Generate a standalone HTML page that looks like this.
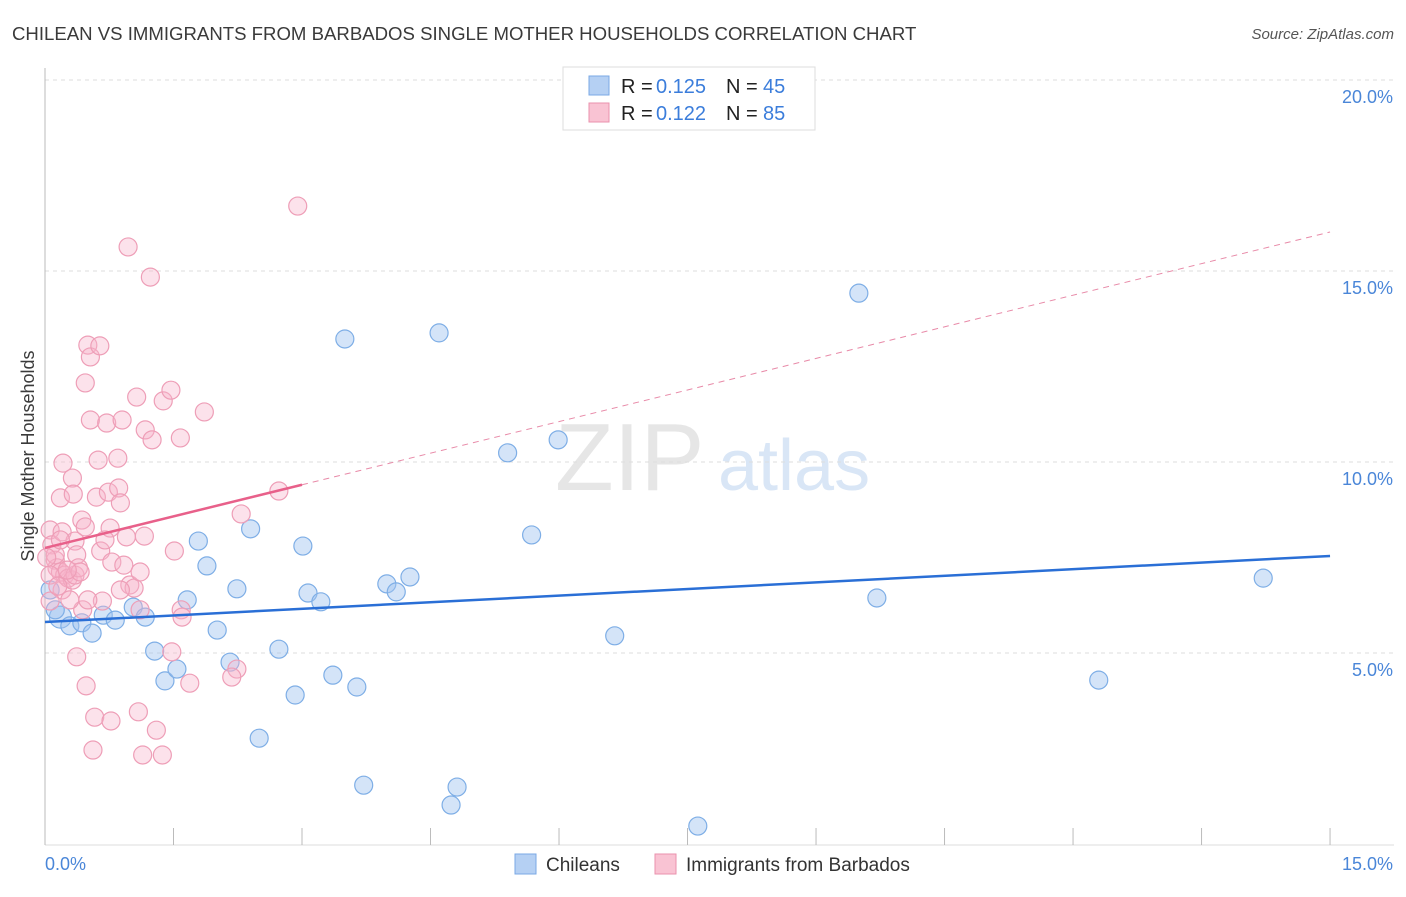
<!DOCTYPE html>
<html><head><meta charset="utf-8"><style>
body{margin:0;background:#fff;font-family:"Liberation Sans",sans-serif}
svg text{font-family:"Liberation Sans",sans-serif}
</style></head><body>
<svg width="1406" height="892" xmlns="http://www.w3.org/2000/svg">
<text x="12" y="40" font-size="18.6" fill="#3a3a3a">CHILEAN VS IMMIGRANTS FROM BARBADOS SINGLE MOTHER HOUSEHOLDS CORRELATION CHART</text>
<text x="1394" y="39" font-size="15" fill="#555" text-anchor="end" font-style="italic">Source: ZipAtlas.com</text>
<text x="555" y="490" font-size="96" fill="#e6e6e6" font-family="Liberation Serif">ZIP</text>
<text x="718" y="490" font-size="72" fill="#d9e6f6">atlas</text>
<g id="grid"></g>
<g id="axes"></g>
<g id="pts"></g>
<g id="trend"></g>
<text transform="translate(34,456) rotate(-90)" font-size="18" fill="#3a3a3a" text-anchor="middle">Single Mother Households</text>
<text x="45" y="870" font-size="18" fill="#4a86d8">0.0%</text>
<text x="1393" y="870" font-size="18" fill="#4a86d8" text-anchor="end">15.0%</text>
<g>
<rect x="563" y="67" width="252" height="63" fill="#fff" stroke="#ddd"/>
<rect x="589" y="76" width="20" height="19" fill="#b5d0f3" stroke="#7aa8e4"/>
<rect x="589" y="103" width="20" height="19" fill="#f9c3d3" stroke="#ea92ad"/>
<text x="621" y="93" font-size="20" fill="#222">R =</text>
<text x="656" y="93" font-size="20" fill="#3b7ddb">0.125</text>
<text x="726" y="93" font-size="20" fill="#222">N =</text>
<text x="763" y="93" font-size="20" fill="#3b7ddb">45</text>
<text x="621" y="120" font-size="20" fill="#222">R =</text>
<text x="656" y="120" font-size="20" fill="#3b7ddb">0.122</text>
<text x="726" y="120" font-size="20" fill="#222">N =</text>
<text x="763" y="120" font-size="20" fill="#3b7ddb">85</text>
</g>
<g>
<rect x="515" y="854" width="21" height="20" fill="#b5d0f3" stroke="#7aa8e4"/>
<text x="546" y="871" font-size="19" fill="#333">Chileans</text>
<rect x="655" y="854" width="21" height="20" fill="#f9c3d3" stroke="#ea92ad"/>
<text x="686" y="871" font-size="19" fill="#333">Immigrants from Barbados</text>
</g>
</svg>
<script>
const yTicks=[5,10,15,20];
const yTickLabels=["5.0%","10.0%","15.0%","20.0%"];
const xTicks=[0,1.5,3,4.5,6,7.5,9,10.5,12,13.5,15];
const chileansX=[.18,.29,.43,.55,.68,.82,1.03,1.17,1.28,1.40,1.54,1.66,1.79,1.89,2.01,2.16,2.24,2.40,2.50,2.73,2.92,3.01,3.07,3.22,3.36,3.50,3.64,3.72,3.99,4.10,4.26,4.60,4.74,4.81,5.40,5.68,5.99,6.65,7.62,9.50,9.71,12.30,14.22,.06,.12];
const chileansY=[5.94,5.71,5.79,5.52,5.99,5.86,6.20,5.94,5.05,4.27,4.58,6.39,7.93,7.28,5.60,4.76,6.68,8.25,2.77,5.10,3.90,7.80,6.57,6.34,4.42,13.22,4.11,1.54,6.81,6.60,6.99,13.38,1.02,1.49,10.24,8.09,10.58,5.45,.47,14.42,6.44,4.29,6.96,6.65,6.13];
const barbadosX=[.06,.08,.12,.14,.18,.20,.23,.27,.32,.35,.06,.12,.21,.18,.20,.32,.33,.35,.37,.39,.41,.43,.47,.50,.53,.47,.53,.60,.62,.64,.65,.67,.72,.74,.76,.78,.85,.86,.88,.90,.92,.95,.99,.97,1.04,1.07,1.11,1.16,1.17,1.23,1.25,1.38,1.47,1.51,1.58,1.59,1.60,1.86,2.24,2.29,2.73,2.95,.48,.37,.58,.56,.77,1.09,1.14,1.30,1.37,1.48,1.69,2.18,.06,.15,.44,.88,1.11,.18,.26,.29,.50,.70,.02];
const barbadosY=[8.22,7.83,7.43,7.23,7.12,6.65,7.04,6.96,6.91,7.04,7.04,7.57,9.97,9.06,8.17,9.58,9.16,7.93,7.57,7.23,7.12,8.48,8.30,13.06,12.75,12.07,11.10,9.08,10.05,13.04,7.67,6.36,11.02,9.21,8.27,7.38,10.10,9.32,8.93,11.10,7.30,8.04,6.78,15.63,6.70,11.70,7.12,8.06,10.84,14.84,10.58,11.60,11.88,7.67,10.63,6.13,5.94,11.31,4.58,8.64,9.24,16.70,4.14,4.90,3.32,2.46,3.22,3.46,2.33,2.98,2.33,5.03,4.21,4.37,6.36,6.75,6.13,6.65,6.13,7.96,7.17,6.39,6.39,7.96,7.50];
const blueTrend=[5.81,7.54];
const pinkTrend=[7.75,16.02];
const NS="http://www.w3.org/2000/svg";
const sx=v=>45+v*85.67, sy=v=>844-v*38.2;
function mk(tag,attrs,parent){const e=document.createElementNS(NS,tag);for(const k in attrs)e.setAttribute(k,attrs[k]);document.getElementById(parent).appendChild(e);return e;}
yTicks.forEach((t,i)=>{
 const l=mk('line',{x1:45,x2:1394,y1:sy(t),y2:sy(t),stroke:'#ddd','stroke-dasharray':'4,4'},'grid');
 
 
 const tx=mk('text',{x:1393,y:sy(t)+23,'font-size':18,fill:'#4a86d8','text-anchor':'end'},'grid');
 tx.textContent=yTickLabels[i];
 
 
});
const ya=mk('line',{x1:45,x2:45,y1:68,y2:845,stroke:'#bbb'},'axes');


const xa=mk('line',{x1:45,x2:1394,y1:845,y2:845,stroke:'#ddd'},'axes');


xTicks.forEach(t=>{
 const l=mk('line',{x1:sx(t),x2:sx(t),y1:828,y2:845,stroke:'#bbb'},'axes');
 
 
});
chileansX.forEach((x,i)=>{
 const c=mk('circle',{cx:sx(x),cy:sy(chileansY[i]),r:(i==0?11:9),fill:'rgba(160,196,240,0.45)',stroke:'#7eaee6','stroke-width':1.2},'pts');
 
 
});
barbadosX.forEach((x,i)=>{
 const c=mk('circle',{cx:sx(x),cy:sy(barbadosY[i]),r:9,fill:'rgba(246,180,202,0.38)',stroke:'#ee9eb7','stroke-width':1.2},'pts');
 
 
});
const bl=mk('line',{x1:sx(0),y1:sy(blueTrend[0]),x2:sx(15),y2:sy(blueTrend[1]),stroke:'#2a6fd6','stroke-width':2.5},'trend');


const pAt=x=>pinkTrend[0]+(pinkTrend[1]-pinkTrend[0])*x/15;
const pd=mk('line',{x1:sx(3),y1:sy(pAt(3)),x2:sx(15),y2:sy(pinkTrend[1]),stroke:'#e88aa8','stroke-width':1,'stroke-dasharray':'6,5'},'trend');


const ps=mk('line',{x1:sx(0),y1:sy(pinkTrend[0]),x2:sx(3),y2:sy(pAt(3)),stroke:'#e8608a','stroke-width':2.5},'trend');


</script>
</body></html>
